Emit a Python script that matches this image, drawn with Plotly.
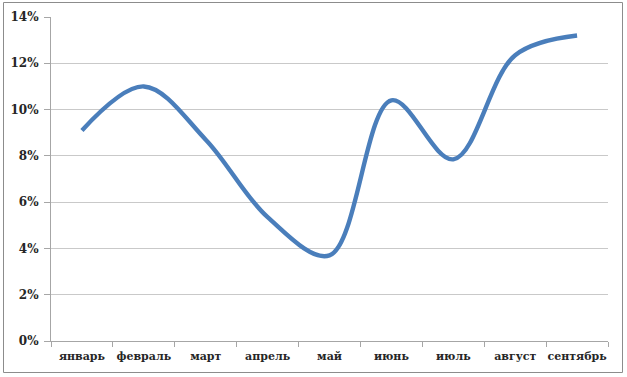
import plotly.graph_objects as go

months = ["январь", "февраль", "март", "апрель", "май", "июнь", "июль", "август", "сентябрь"]
values = [9.1, 11.0, 8.7, 5.35, 3.7, 10.4, 7.85, 12.35, 13.2]
y_ticks = [0, 2, 4, 6, 8, 10, 12, 14]
y_tick_labels = [f"{v}%" for v in y_ticks]

W, H = 627, 377
L, R, T, B = 51, 19, 17, 36
pw, ph = W - L - R, H - T - B

def px_x(p):
    return (p - L) / pw

def px_y(p):
    return (H - B - p) / ph

SERIF = "DejaVu Serif"

fig = go.Figure(
    go.Scatter(
        x=months,
        y=values,
        mode="lines",
        line=dict(color="#4a7ebb", width=4.4, shape="spline", smoothing=1),
        hoverinfo="skip",
    )
)

fig.update_layout(
    width=W,
    height=H,
    margin=dict(l=L, r=R, t=T, b=B),
    paper_bgcolor="white",
    plot_bgcolor="white",
    showlegend=False,
    font=dict(family=SERIF, size=11, color="#262626"),
    xaxis=dict(
        type="category",
        range=[-0.5, len(months) - 0.5],
        tickson="boundaries",
        ticks="outside",
        ticklen=5,
        tickcolor="#a6a6a6",
        tickangle=0,
        ticklabelstandoff=5,
        automargin=False,
        showline=True,
        linecolor="#a6a6a6",
        linewidth=1,
        showgrid=False,
        tickfont=dict(family=SERIF, size=11, color="#262626", weight="bold"),
        fixedrange=True,
    ),
    yaxis=dict(
        range=[0, 14],
        tickvals=y_ticks,
        ticktext=y_tick_labels,
        ticks="outside",
        ticklen=6,
        tickcolor="#a6a6a6",
        ticklabelstandoff=3,
        automargin=False,
        showline=True,
        linecolor="#a6a6a6",
        linewidth=1,
        showgrid=True,
        gridcolor="#c9c9c9",
        gridwidth=1.3,
        zeroline=False,
        tickfont=dict(family=SERIF, size=12, color="#262626", weight="bold"),
        fixedrange=True,
    ),
    shapes=[
        dict(
            type="rect",
            xref="paper",
            yref="paper",
            x0=px_x(3.5),
            x1=px_x(622.5),
            y0=px_y(372.5),
            y1=px_y(2.5),
            line=dict(color="#8c8c8c", width=1),
            fillcolor="rgba(0,0,0,0)",
            layer="below",
        )
    ],
)

fig.write_html("out.html")
